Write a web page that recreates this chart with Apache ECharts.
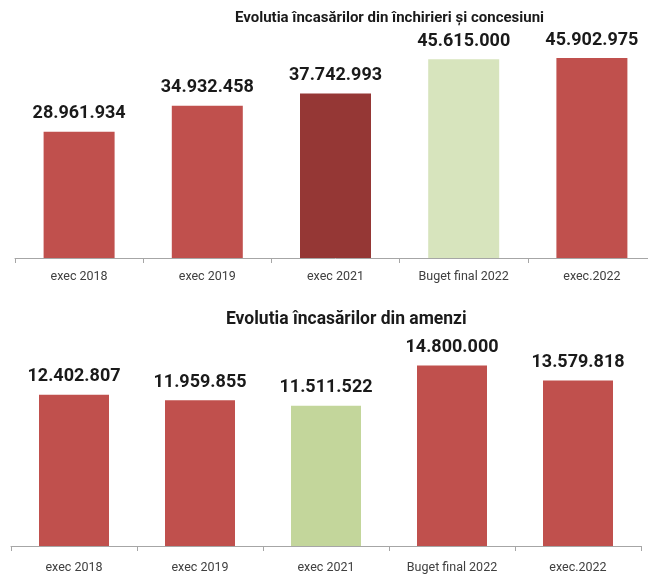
<!DOCTYPE html>
<html>
<head>
<meta charset="utf-8">
<script src="https://cdn.jsdelivr.net/npm/echarts@6/dist/echarts.min.js"></script>
<style>
  html, body { margin: 0; padding: 0; background: #fff; overflow: hidden; }
  #chart { width: 680px; height: 574px; }
</style>
</head>
<body>
<div id="chart"></div>
<script>
// date
var categories = ['exec 2018', 'exec 2019', 'exec 2021', 'Buget final 2022', 'exec.2022'];
var rentValues = [28961934, 34932458, 37742993, 45615000, 45902975];
var fineValues = [12402807, 11959855, 11511522, 14800000, 13579818];

// culori pe bare
var rentColors = ['#C0504D', '#C0504D', '#953735', '#D7E4BD', '#C0504D'];
var fineColors = ['#C0504D', '#C0504D', '#C3D69B', '#C0504D', '#C0504D'];

var font = 'Roboto, "Noto Sans", sans-serif';

function formatRo(v) {
    return String(v).replace(/\B(?=(\d{3})+(?!\d))/g, '.');
}

function makeData(values, colors) {
    return values.map(function (v, i) {
        return { value: v, itemStyle: { color: colors[i] } };
    });
}

function xAxisFor(grid, margin) {
    return {
        gridIndex: grid,
        type: 'category',
        data: categories,
        axisLine: { lineStyle: { color: '#A6A6A6', width: 1 } },
        axisTick: { show: true, length: 5, lineStyle: { color: '#A6A6A6' } },
        axisLabel: { color: '#404040', fontSize: 12.5, fontFamily: font, margin: margin }
    };
}

function barLabel(distance) {
    return {
        show: true,
        position: 'top',
        distance: distance,
        color: '#1a1a1a',
        fontSize: 18,
        fontWeight: 'bold',
        fontFamily: font,
        formatter: function (p) { return formatRo(p.value); }
    };
}

var chart = echarts.init(document.getElementById('chart'));

chart.setOption({
    animation: false,
    title: [
        {
            text: 'Evolutia încasărilor din închirieri și concesiuni',
            left: 235,
            top: 11,
            padding: 0,
            textStyle: { fontSize: 15, fontWeight: 'bold', color: '#1a1a1a', fontFamily: font }
        },
        {
            text: 'Evolutia încasărilor din amenzi',
            left: 226,
            top: 311,
            padding: 0,
            textStyle: { fontSize: 17.5, fontWeight: 'bold', color: '#1a1a1a', fontFamily: font }
        }
    ],
    grid: [
        { left: 15, width: 641, top: 30, height: 228 },
        { left: 11, width: 630, top: 352, height: 200 }
    ],
    xAxis: [xAxisFor(0, 12), xAxisFor(1, 15)],
    yAxis: [
        { gridIndex: 0, type: 'value', min: 0, max: 52340000, show: false, splitLine: { show: false } },
        { gridIndex: 1, type: 'value', min: 0, max: 15910000, show: false, splitLine: { show: false } }
    ],
    series: [
        {
            type: 'bar',
            xAxisIndex: 0,
            yAxisIndex: 0,
            barWidth: 71,
            data: makeData(rentValues, rentColors),
            label: barLabel(9)
        },
        {
            type: 'bar',
            xAxisIndex: 1,
            yAxisIndex: 1,
            barWidth: 70,
            data: makeData(fineValues, fineColors),
            label: barLabel(9)
        }
    ]
});
</script>
</body>
</html>
